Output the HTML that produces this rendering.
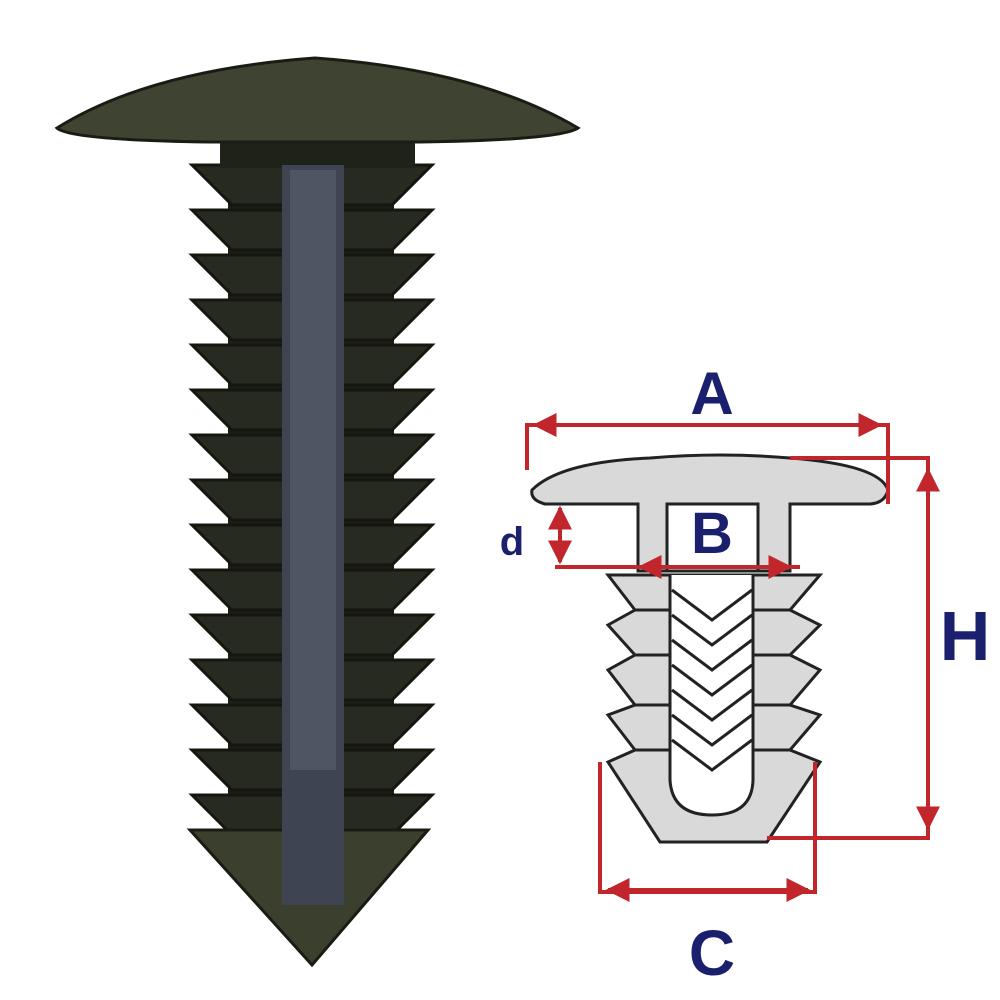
<!DOCTYPE html>
<html><head><meta charset="utf-8"><style>
html,body{margin:0;padding:0;background:#fff;}
svg{display:block}
text{font-family:"Liberation Sans",sans-serif;font-weight:bold;fill:#1a1f6e}
</style></head><body>
<svg width="1000" height="1000" viewBox="0 0 1000 1000" xmlns="http://www.w3.org/2000/svg">
<defs>
<polygon id="rib" points="192,0 432,0 392,40 232,40" fill="#272a20" stroke="#15170f" stroke-width="3"/>
<marker id="ar" viewBox="0 0 10 10" refX="9" refY="5" markerWidth="6" markerHeight="6" orient="auto-start-reverse"><path d="M0,0 L10,5 L0,10 z" fill="#c0262c"/></marker>
</defs>
<!-- photo clip -->
<rect x="228" y="140" width="166" height="700" fill="#1b1e17"/>
<use href="#rib" y="165"/><use href="#rib" y="210"/><use href="#rib" y="255"/><use href="#rib" y="300"/><use href="#rib" y="345"/><use href="#rib" y="390"/><use href="#rib" y="435"/><use href="#rib" y="480"/><use href="#rib" y="525"/><use href="#rib" y="570"/><use href="#rib" y="615"/><use href="#rib" y="660"/><use href="#rib" y="705"/><use href="#rib" y="750"/><use href="#rib" y="795"/>
<polygon points="190,830 428,830 312,965" fill="#3b3f2d" stroke="#1a1c14" stroke-width="3"/>
<rect x="220" y="130" width="195" height="38" fill="#1f2219"/>
<path d="M57,128 Q150,70 315,58 Q480,70 578,128 Q560,140 420,142 L210,142 Q70,140 57,128 z" fill="#3f4331" stroke="#1a1c14" stroke-width="3"/>
<rect x="282" y="165" width="62" height="740" fill="#3f4452"/>
<rect x="290" y="170" width="46" height="600" fill="#505564"/>
<!-- diagram -->
<g fill="#d9d9d9" stroke="#222" stroke-width="3">
<path d="M608,575 L820,575 L790,610 L820,625 L790,655 L820,670 L790,705 L820,715 L790,750 L820,762 L767,842 L660,842 L608,762 L635,750 L608,715 L635,705 L608,670 L635,655 L608,625 L635,610 z"/>
<path d="M532,490 Q560,462 650,458 Q720,452 790,458 Q880,465 888,490 Q885,503 870,504 L790,504 L790,571 L638,571 L638,504 L545,504 Q530,500 532,490 z"/>
<rect x="667" y="504" width="91" height="67" fill="#fff"/>
<path d="M670,575 L670,780 Q672,815 712,815 Q752,815 753,780 L753,575" fill="#fff"/>
</g>
<g fill="none" stroke="#222" stroke-width="3">
<path d="M672,590 L712,620 L752,590"/><path d="M672,615 L712,645 L752,615"/><path d="M672,640 L712,670 L752,640"/><path d="M672,665 L712,695 L752,665"/><path d="M672,690 L712,720 L752,690"/><path d="M672,715 L712,745 L752,715"/><path d="M672,740 L712,770 L752,740"/>
<path d="M635,610 L670,610 M635,655 L670,655 M635,705 L670,705 M635,750 L670,750 M753,610 L790,610 M753,655 L790,655 M753,705 L790,705 M753,750 L790,750"/>
</g>
<g stroke="#c0262c" stroke-width="4" fill="none">
<path d="M527,470 L527,425 L888,425 L888,504"/>
<line x1="535" y1="425" x2="880" y2="425" marker-start="url(#ar)" marker-end="url(#ar)"/>
<path d="M790,458 L928,458 L928,838 L767,838"/>
<line x1="928" y1="470" x2="928" y2="828" marker-start="url(#ar)" marker-end="url(#ar)"/>
<line x1="560" y1="508" x2="560" y2="562" marker-start="url(#ar)" marker-end="url(#ar)"/>
<line x1="555" y1="567" x2="800" y2="567"/>
<line x1="640" y1="567" x2="670" y2="567" marker-start="url(#ar)"/>
<line x1="760" y1="567" x2="790" y2="567" marker-end="url(#ar)"/>
<path d="M600,762 L600,892 L815,892 L815,762"/>
<line x1="608" y1="890" x2="808" y2="890" marker-start="url(#ar)" marker-end="url(#ar)"/>
</g>
<text x="712" y="414" font-size="60" text-anchor="middle">A</text>
<text x="712" y="553" font-size="58" text-anchor="middle">B</text>
<text x="965" y="660" font-size="70" text-anchor="middle">H</text>
<text x="712" y="975" font-size="64" text-anchor="middle">C</text>
<text x="512" y="555" font-size="40" text-anchor="middle">d</text>
</svg>
</body></html>
